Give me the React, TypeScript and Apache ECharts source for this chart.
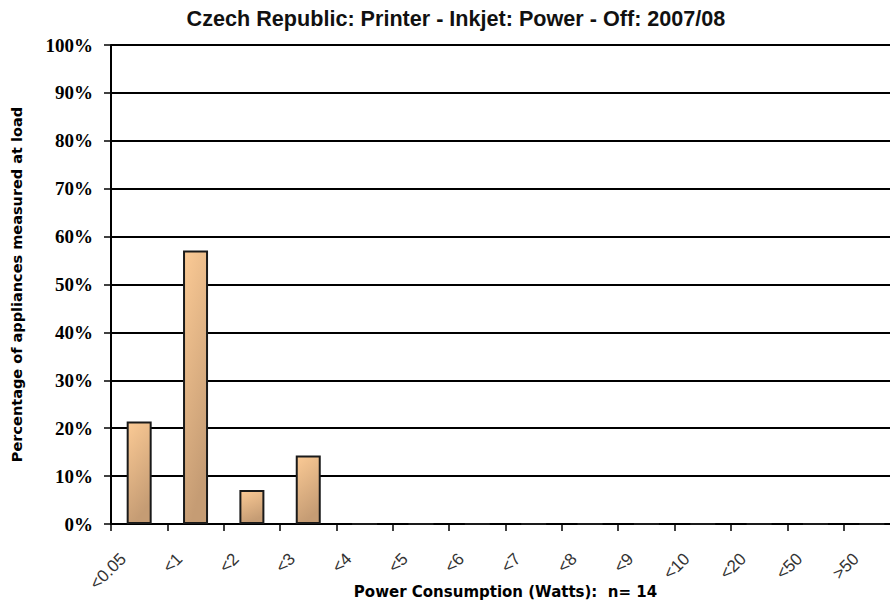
import React, { useEffect, useRef } from "react";
import * as echarts from "echarts";

// Power-off draw bins (Watts) and share of appliances measured in each bin
const categories = ["<0.05", "<1", "<2", "<3", "<4", "<5", "<6", "<7", "<8", "<9", "<10", "<20", "<50", ">50"];
const shares = [21.4, 57.1, 7.1, 14.3, 0, 0, 0, 0, 0, 0, 0, 0, 0, 0];
const yTicks = [0, 10, 20, 30, 40, 50, 60, 70, 80, 90, 100];

const titleText = "Czech Republic: Printer - Inkjet: Power - Off: 2007/08";
const xAxisTitle = "Power Consumption (Watts):  n= 14";
const yAxisTitle = "Percentage of appliances measured at load";

export default function App() {
  const ref = useRef<HTMLDivElement>(null);

  useEffect(() => {
    if (!ref.current) return;
    const chart = echarts.init(ref.current, undefined, { renderer: "svg" });
    const barFill = new echarts.graphic.LinearGradient(0, 0, 0.3, 1, [
      { offset: 0, color: "#fbca95" },
      { offset: 1, color: "#c59c74" },
    ]);
    chart.setOption({
      animation: false,
      backgroundColor: "#ffffff",
      title: {
        text: titleText,
        left: 451,
        top: 2,
        textAlign: "center",
        textStyle: {
          fontFamily: "'Liberation Sans', Arial, sans-serif",
          fontWeight: "bold",
          fontSize: 21.6,
          color: "#111",
        },
      },
      grid: { left: 111, top: 45, bottom: 82, width: 789, containLabel: false, outerBoundsMode: "none" },
      xAxis: {
        type: "category",
        data: categories,
        name: xAxisTitle,
        nameLocation: "middle",
        nameGap: 60,
        nameMoveOverlap: false,
        nameTextStyle: {
          fontFamily: "'DejaVu Sans', sans-serif",
          fontWeight: "bold",
          fontSize: 15,
          color: "#000",
        },
        axisLine: { lineStyle: { color: "#000", width: 2 } },
        axisTick: { show: true, alignWithLabel: false, length: 7, lineStyle: { color: "#000", width: 1.5 } },
        axisLabel: {
          rotate: 45,
          margin: 48,
          verticalAlign: "bottom",
          lineHeight: 45,
          fontFamily: "'Liberation Sans', Arial, sans-serif",
          fontSize: 17,
          color: "#333",
          interval: 0,
        },
        splitLine: { show: false },
      },
      yAxis: {
        type: "value",
        min: 0,
        max: 100,
        interval: 10,
        name: yAxisTitle,
        nameLocation: "middle",
        nameGap: 87,
        nameMoveOverlap: false,
        nameRotate: 90,
        nameTextStyle: {
          fontFamily: "'DejaVu Sans', sans-serif",
          fontWeight: "bold",
          fontSize: 14.5,
          color: "#000",
        },
        axisLine: { show: true, lineStyle: { color: "#000", width: 2 } },
        axisTick: { show: true, length: 7, lineStyle: { color: "#000", width: 1.5 } },
        axisLabel: {
          margin: 18,
          fontFamily: "'Liberation Serif', 'Times New Roman', serif",
          fontWeight: "bold",
          fontSize: 19,
          color: "#000",
          formatter: (v: number) => (yTicks.includes(v) ? `${v}%` : ""),
        },
        splitLine: { show: true, lineStyle: { color: "#000", width: 2 } },
      },
      series: [
        {
          type: "bar",
          data: shares,
          barWidth: 25,
          itemStyle: {
            color: barFill,
            borderColor: "#1a1a1a",
            borderWidth: 2,
          },
        },
      ],
    });
    return () => chart.dispose();
  }, []);

  return (
    <div
      ref={ref}
      style={{ position: "fixed", left: 0, top: 0, width: 890, height: 606, overflow: "hidden" }}
    />
  );
}
